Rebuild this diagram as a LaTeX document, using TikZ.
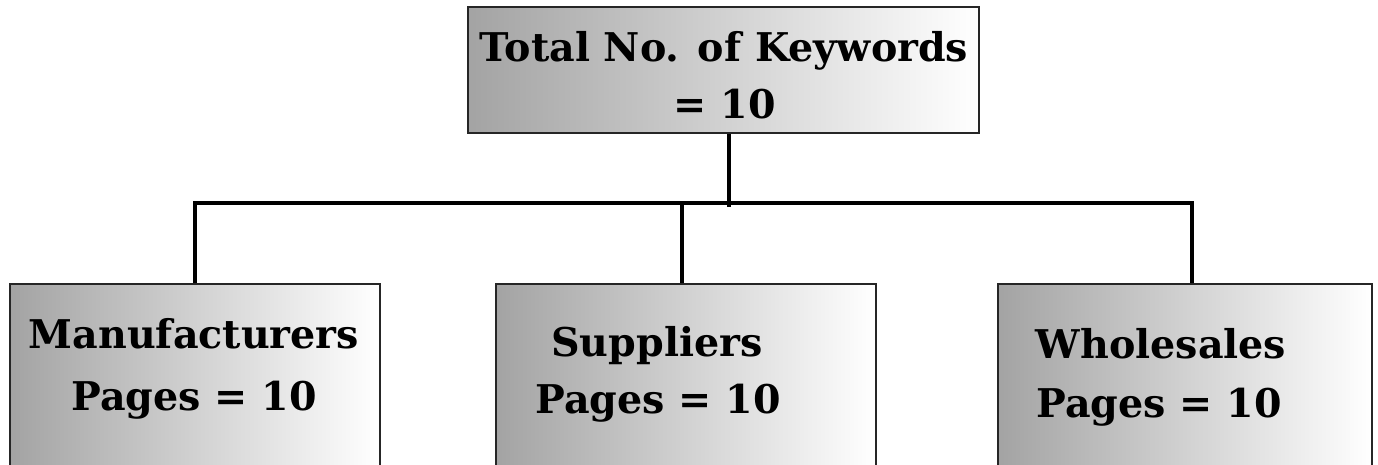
\documentclass[tikz,border=0pt]{standalone}
\usepackage{fontspec}
\setmainfont{DejaVu Serif}
\begin{document}
\begin{tikzpicture}[x=1pt,y=-1pt,
  box/.style={draw=black!85,line width=2pt,left color=black!36,right color=white,
    shading angle=90,rectangle,inner sep=0pt,anchor=north west},
  lbl/.style={font=\bfseries\fontsize{39.6}{44}\selectfont,inner sep=0pt,anchor=base},
  conn/.style={line width=3.3pt,draw=black,line join=miter}]
\useasboundingbox (0,0) rectangle (1378,464);
\clip (0,0) rectangle (1378,464);
\node[box,minimum width=511pt,minimum height=126pt] (top) at (467,6) {};
\node[box,minimum width=370pt,minimum height=200pt] (m) at (9,283) {};
\node[box,minimum width=380pt,minimum height=200pt] (s) at (495,283) {};
\node[box,minimum width=374pt,minimum height=200pt] (w) at (997,283) {};
\node[lbl] (t1) at (724,61) {Total No. of Keywords};
\node[lbl] (t2) at (725,118) {= 10};
\node[lbl] (m1) at (194,348) {Manufacturers};
\node[lbl] (m2) at (194,410) {Pages = 10};
\node[lbl] (s1) at (657,356) {Suppliers};
\node[lbl] (s2) at (658,413) {Pages = 10};
\node[lbl] (w1) at (1161,358) {Wholesales};
\node[lbl] (w2) at (1159,417) {Pages = 10};
\coordinate (stem) at (729,207);
\coordinate (busL) at (195,203);
\coordinate (busM) at (682,203);
\coordinate (busR) at (1192,203);
\draw[conn] (stem |- top.south) -- (stem);
\draw[conn] (busL |- m.north) -- (busL) -- (busR) -- (busR |- w.north);
\draw[conn] (busM) -- (busM |- s.north);
\end{tikzpicture}
\end{document}
